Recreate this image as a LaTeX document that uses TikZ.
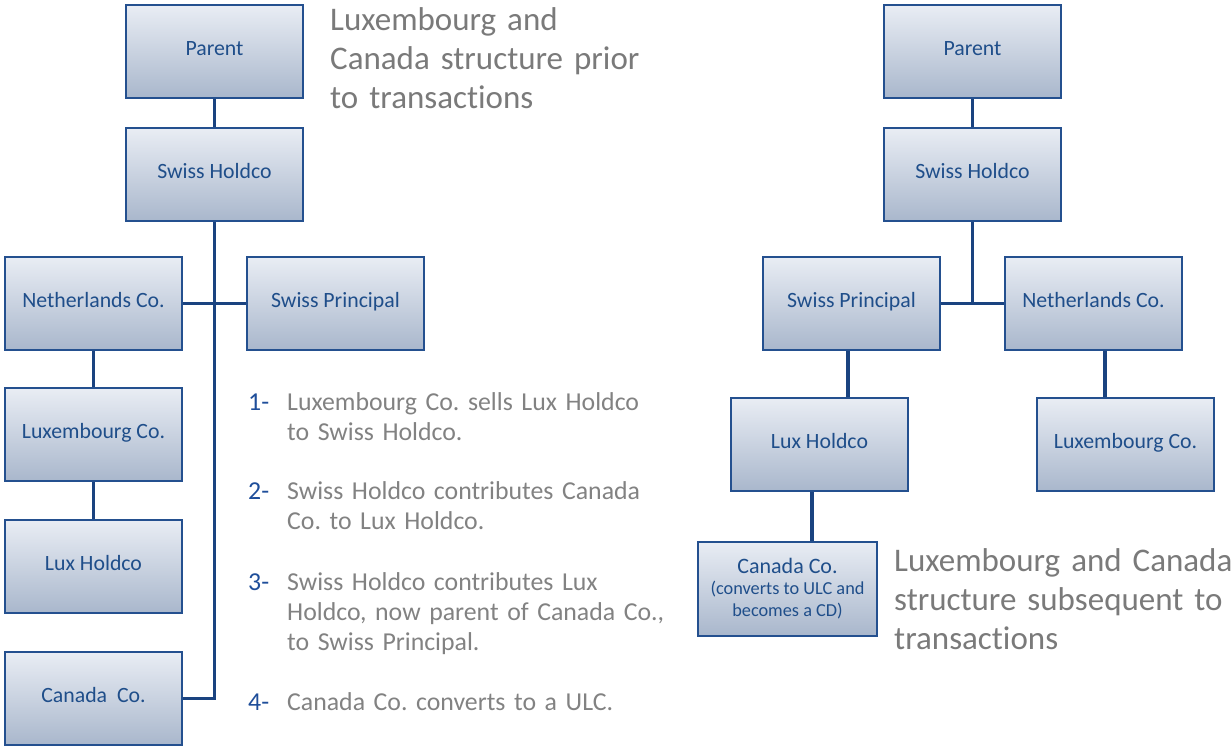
\documentclass[tikz,border=0pt]{standalone}
\usepackage{fontspec}
\setmainfont{Carlito}[Ligatures=NoCommon]
\frenchspacing
\definecolor{boxtop}{HTML}{E9EDF4}
\definecolor{boxbot}{HTML}{A9B7CC}
\definecolor{boxline}{HTML}{24508F}
\definecolor{boxtext}{HTML}{1F4E8A}
\definecolor{linkc}{HTML}{1A4380}
\definecolor{headgray}{HTML}{7A7A7A}
\definecolor{listgray}{HTML}{828282}
\definecolor{numblue}{HTML}{1F4E9A}
\begin{document}
\begin{tikzpicture}[x=1pt,y=-1pt,
  box/.style={draw=boxline, line width=2pt, top color=boxtop, bottom color=boxbot,
    minimum width=177pt, minimum height=93pt, inner sep=0pt, text=boxtext,
    font=\fontsize{21.8}{24}\selectfont, text height=13pt, text depth=6pt},
  link/.style={draw=linkc, line width=3.4pt},
  head/.style={text=headgray, font=\fontsize{33}{39}\selectfont, anchor=base west,
    inner sep=0pt, text width=400pt, align=left},
  item/.style={text=listgray, font=\fontsize{25.8}{30}\selectfont, anchor=base west,
    inner sep=0pt, text width=420pt, align=left},
  num/.style={text=numblue, font=\fontsize{25.8}{30}\selectfont, anchor=base west, inner sep=0pt}]
\useasboundingbox (0,0) rectangle (1231,747);
\fill[white] (0,0) rectangle (1231,747);

% ---------- left structure ----------
\node[box] (LP)  at (214.5,51.5)  {Parent};
\node[box] (LSH) at (214.5,174.5) {Swiss Holdco};
\node[box] (LN)  at (93.5,303.5)  {Netherlands Co.};
\node[box] (LSP) at (335.5,303.5) {Swiss Principal};
\node[box] (LL)  at (93.5,434.5)  {Luxembourg Co.};
\node[box] (LH)  at (93.5,566.5)  {Lux Holdco};
\node[box] (LC)  at (93.5,698.5)  {Canada\ \ Co.};

\draw[link] (LP.south) -- (LSH.north);
\draw[link] (LSH.south) |- (LC.east);
\draw[link] (LN.east) -- (LSP.west);
\draw[link] (LN.south) -- (LL.north);
\draw[link] (LL.south) -- (LH.north);

% ---------- right structure ----------
\node[box] (RP)  at (972.5,51.5)  {Parent};
\node[box] (RSH) at (972.5,174.5) {Swiss Holdco};
\node[box] (RSP) at (851.5,303.5) {Swiss Principal};
\node[box] (RN)  at (1093.5,303.5) {Netherlands Co.};
\node[box] (RH)  at (819.5,444.5) {Lux Holdco};
\node[box] (RL)  at (1125.5,444.5) {Luxembourg Co.};
\node[box, minimum width=179pt, minimum height=94pt, text height=, text depth=,
      align=center, font=\fontsize{22}{22}\selectfont] (RC) at (787.5,588.5)
  {Canada Co.\\[-1pt]{\fontsize{18.3}{20}\selectfont (converts to ULC and}\\{\fontsize{18.3}{20}\selectfont becomes a CD)}};

\coordinate (xsp) at (848,0);
\coordinate (xn) at (1105,0);
\coordinate (xh) at (812,0);
\coordinate (jr) at (RSH.south |- RSP.east);
\draw[link] (RP.south) -- (RSH.north);
\draw[link] (RSH.south) -- (jr);
\draw[link] (RSP.east) -- (RN.west);
\draw[link] (RSP.south -| xsp) -- (RH.north -| xsp);
\draw[link] (RN.south -| xn) -- (RL.north -| xn);
\draw[link] (RH.south -| xh) -- (RC.north -| xh);

% ---------- headings ----------
\node[head] (hl) at (330,30) {Luxembourg and\\Canada structure prior\\to transactions};
\node[head] (hr) at (894,571) {Luxembourg and Canada\\structure subsequent to\\transactions};

% ---------- steps ----------
\node[num] (n1) at (248,410) {1-};
\node[item] (t1) at (287,410) {Luxembourg Co. sells Lux Holdco\\to Swiss Holdco.};
\node[num] (n2) at (248,499) {2-};
\node[item] (t2) at (287,499) {Swiss Holdco contributes Canada\\Co. to Lux Holdco.};
\node[num] (n3) at (248,590) {3-};
\node[item] (t3) at (287,590) {Swiss Holdco contributes Lux\\Holdco, now parent of Canada Co.,\\to Swiss Principal.};
\node[num] (n4) at (248,710) {4-};
\node[item] (t4) at (287,710) {Canada Co. converts to a ULC.};
\end{tikzpicture}
\end{document}
